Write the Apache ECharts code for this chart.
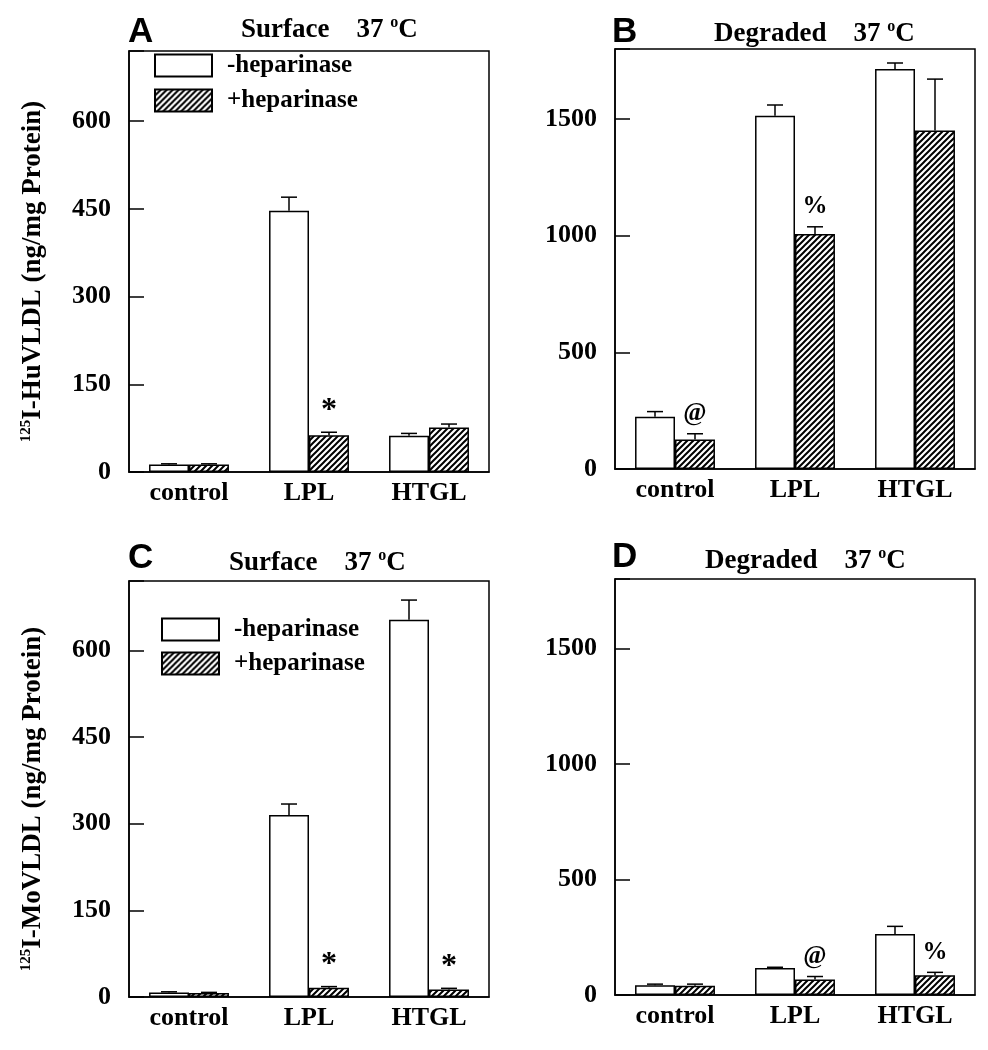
<!DOCTYPE html>
<html>
<head>
<meta charset="utf-8">
<script src="https://cdn.jsdelivr.net/npm/echarts@6/dist/echarts.min.js"></script>
<style>
  html, body { margin: 0; padding: 0; background: #fff; }
  #main { width: 988px; height: 1050px; }
</style>
</head>
<body>
<div id="main"></div>
<script>
// categories and values
var categories = ['control', 'LPL', 'HTGL'];
var seriesNames = ['-heparinase', '+heparinase'];

// A: surface, human VLDL
var surfHuMinus = [13, 447, 62];
var surfHuMinusSd = [1, 23, 4];
var surfHuPlus = [13, 63, 76];
var surfHuPlusSd = [1, 5, 6];
var surfHuMarks = ['', '*', ''];

// B: degraded, human VLDL
var degHuMinus = [224, 1514, 1714];
var degHuMinusSd = [22, 46, 26];
var degHuPlus = [126, 1007, 1451];
var degHuPlusSd = [25, 31, 220];
var degHuMarks = ['@', '%', ''];

// C: surface, mouse VLDL
var surfMoMinus = [8, 315, 653];
var surfMoMinusSd = [1, 19, 34];
var surfMoPlus = [7, 16, 13];
var surfMoPlusSd = [1, 2, 2];
var surfMoMarks = ['', '*', '*'];

// D: degraded, mouse VLDL
var degMoMinus = [42, 117, 264];
var degMoMinusSd = [5, 3, 33];
var degMoPlus = [40, 67, 85];
var degMoPlusSd = [7, 13, 13];
var degMoMarks = ['', '@', '%'];

var surfTicks = [0, 150, 300, 450, 600];
var degTicks = [0, 500, 1000, 1500];

var serif = '"Liberation Serif", "Times New Roman", serif';
var sans = '"Liberation Sans", Arial, sans-serif';

// hatch pattern //// for the +heparinase bars
var hatch = document.createElement('canvas');
hatch.width = 6; hatch.height = 6;
var hc = hatch.getContext('2d');
hc.fillStyle = '#fff';
hc.fillRect(0, 0, 6, 6);
hc.strokeStyle = '#000';
hc.lineWidth = 2;
hc.beginPath();
hc.moveTo(0, 6); hc.lineTo(6, 0);
hc.moveTo(-1, 1); hc.lineTo(1, -1);
hc.moveTo(5, 7); hc.lineTo(7, 5);
hc.stroke();
var hatchFill = { image: hatch, repeat: 'repeat' };

var grids = [
  { left: 129, top: 51, width: 360, height: 421 },
  { left: 615, top: 49, width: 360, height: 420 },
  { left: 129, top: 581, width: 360, height: 416 },
  { left: 615, top: 579, width: 360, height: 416 }
];

var panels = [
  { minus: surfHuMinus, minusSd: surfHuMinusSd, plus: surfHuPlus, plusSd: surfHuPlusSd, marks: surfHuMarks, max: 720, interval: 150, ticks: surfTicks },
  { minus: degHuMinus, minusSd: degHuMinusSd, plus: degHuPlus, plusSd: degHuPlusSd, marks: degHuMarks, max: 1800, interval: 500, ticks: degTicks },
  { minus: surfMoMinus, minusSd: surfMoMinusSd, plus: surfMoPlus, plusSd: surfMoPlusSd, marks: surfMoMarks, max: 720, interval: 150, ticks: surfTicks },
  { minus: degMoMinus, minusSd: degMoMinusSd, plus: degMoPlus, plusSd: degMoPlusSd, marks: degMoMarks, max: 1800, interval: 500, ticks: degTicks }
];

var yNames = [
  '{sup|125}{main|I-HuVLDL (ng/mg Protein)}',
  '',
  '{sup|125}{main|I-MoVLDL (ng/mg Protein)}',
  ''
];

var xAxes = [], yAxes = [], series = [];

panels.forEach(function (p, i) {
  xAxes.push({
    type: 'category',
    gridIndex: i,
    data: categories,
    axisTick: { show: false },
    axisLine: { lineStyle: { color: '#000', width: 1.5 } },
    axisLabel: { color: '#000', fontFamily: serif, fontWeight: 'bold', fontSize: 26, margin: 8 }
  });
  yAxes.push({
    type: 'value',
    gridIndex: i,
    min: 0,
    max: p.max,
    interval: p.interval,
    splitLine: { show: false },
    axisLine: { show: true, lineStyle: { color: '#000', width: 1.5 } },
    axisTick: { show: true, inside: true, length: 15, lineStyle: { color: '#000', width: 1.5 } },
    axisLabel: {
      color: '#000', fontFamily: serif, fontWeight: 'bold', fontSize: 26, margin: 18,
      formatter: function (v) { return p.ticks.indexOf(v) >= 0 ? String(v) : ''; }
    },
    name: yNames[i],
    nameLocation: 'middle',
    nameGap: 82,
    nameRotate: 90,
    nameTextStyle: {
      padding: [0, 20, 0, 0],
      rich: {
        sup: { fontFamily: serif, fontWeight: 'bold', fontSize: 15, color: '#000', verticalAlign: 'top', lineHeight: 28 },
        main: { fontFamily: serif, fontWeight: 'bold', fontSize: 27, color: '#000', lineHeight: 28 }
      }
    }
  });

  var bw = 1.5;
  series.push({
    name: seriesNames[0], type: 'bar', xAxisIndex: i, yAxisIndex: i,
    data: p.minus, barWidth: '33.3%', barGap: '0%',
    itemStyle: { color: '#fff', borderColor: '#000', borderWidth: bw },
    silent: true, animation: false
  });
  series.push({
    name: seriesNames[1], type: 'bar', xAxisIndex: i, yAxisIndex: i,
    data: p.plus, barWidth: '33.3%', barGap: '0%',
    itemStyle: { color: hatchFill, borderColor: '#000', borderWidth: bw },
    silent: true, animation: false
  });

  // error bars (upper half only) and significance marks
  [[p.minus, p.minusSd, -1, null], [p.plus, p.plusSd, 1, p.marks]].forEach(function (s) {
    var vals = s[0], sds = s[1], side = s[2], marks = s[3];
    series.push({
      type: 'custom', xAxisIndex: i, yAxisIndex: i, silent: true, animation: false,
      z: 5,
      data: vals.map(function (v, k) { return [k, v, v + sds[k]]; }),
      encode: { x: 0, y: [1, 2] },
      renderItem: function (params, api) {
        var k = api.value(0);
        var base = api.coord([k, api.value(1)]);
        var top = api.coord([k, api.value(2)]);
        var band = api.size([1, 0])[0];
        var cx = base[0] + side * band / 6;
        var children = [
          { type: 'line', shape: { x1: cx, y1: base[1], x2: cx, y2: top[1] }, style: { stroke: '#000', lineWidth: 1.5 } },
          { type: 'line', shape: { x1: cx - 8, y1: top[1], x2: cx + 8, y2: top[1] }, style: { stroke: '#000', lineWidth: 1.5 } }
        ];
        if (marks && marks[k]) {
          var star = marks[k] === '*';
          children.push({
            type: 'text', x: cx, y: top[1] - (star ? 22 : 20),
            style: { text: marks[k], fill: '#000', font: 'bold ' + (star ? 32 : 25) + 'px ' + serif, align: 'center', verticalAlign: 'middle' }
          });
        }
        return { type: 'group', children: children };
      }
    });
  });
});

function panelTitle(letter, what, lx, ly, tx, ty) {
  return [
    { text: letter, left: lx, top: ly, textStyle: { fontFamily: sans, fontWeight: 900, fontSize: 35, color: '#000' } },
    {
      text: '{t|' + what + '    37 }{sup|o}{t|C}', left: tx, top: ty,
      textStyle: {
        rich: {
          t: { fontFamily: serif, fontWeight: 'bold', fontSize: 27, color: '#000', lineHeight: 30 },
          sup: { fontFamily: serif, fontWeight: 'bold', fontSize: 16, color: '#000', verticalAlign: 'top', lineHeight: 30 }
        }
      }
    }
  ];
}

var titles = [].concat(
  panelTitle('A', 'Surface', 128, 15, 241, 15),
  panelTitle('B', 'Degraded', 612, 15, 714, 19),
  panelTitle('C', 'Surface', 128, 541, 229, 548),
  panelTitle('D', 'Degraded', 612, 540, 705, 546)
);
titles.forEach(function (t) { t.padding = 0; });

var legendStyle = {
  orient: 'vertical', selectedMode: false,
  itemWidth: 57, itemHeight: 22, itemGap: 10,
  icon: 'rect',
  textStyle: { fontFamily: serif, fontWeight: 'bold', fontSize: 25, color: '#000', padding: [0, 0, 0, 10] },
  data: seriesNames
};

var option = {
  backgroundColor: '#fff',
  animation: false,
  title: titles,
  legend: [
    Object.assign({ left: 154, top: 53, padding: 0 }, legendStyle),
    Object.assign({ left: 161, top: 617, padding: 0 }, legendStyle, { itemGap: 9 })
  ],
  grid: grids.map(function (g) {
    return Object.assign({ show: true, borderColor: '#000', borderWidth: 1.5, backgroundColor: 'transparent', containLabel: false, outerBoundsMode: 'none' }, g);
  }),
  xAxis: xAxes,
  yAxis: yAxes,
  series: series
};

var myChart = echarts.init(document.getElementById('main'));
myChart.setOption(option);
</script>
</body>
</html>
